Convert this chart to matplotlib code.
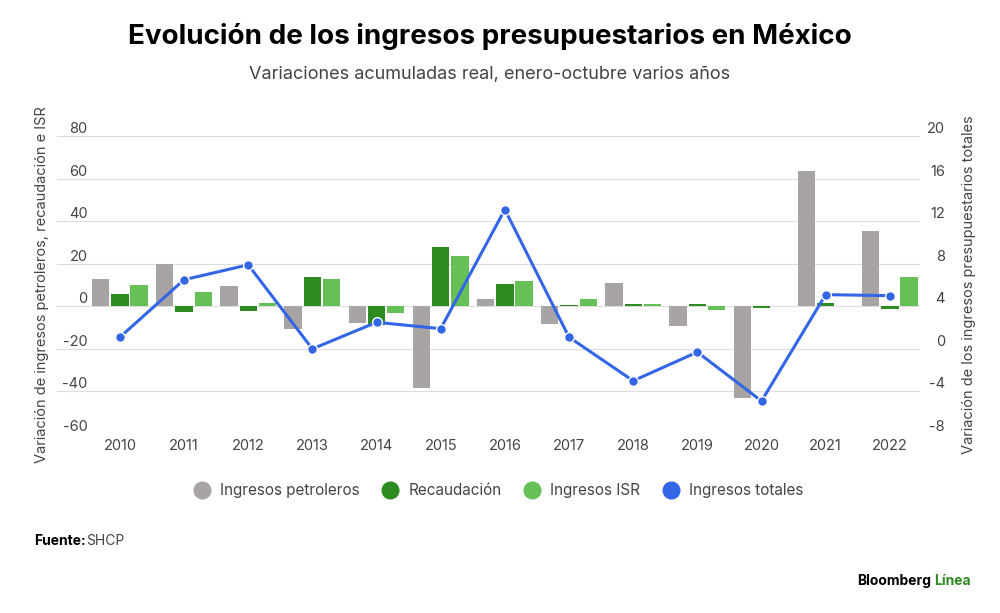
import matplotlib
matplotlib.use("Agg")
import matplotlib.pyplot as plt
import numpy as np
from matplotlib.lines import Line2D

years = ["2010","2011","2012","2013","2014","2015","2016","2017","2018","2019","2020","2021","2022"]
petroleros = [12.8, 20.0, 9.5, -10.6, -7.8, -38.5, 3.6, -8.1, 10.8, -9.2, -43.3, 63.8, 35.5]
recaudacion = [5.6, -2.5, -2.0, 13.8, -9.0, 27.7, 10.3, 0.5, 1.2, 1.2, -1.0, 1.5, -1.2]
isr = [10.0, 6.6, 1.4, 12.8, -3.0, 23.5, 12.0, 3.6, 1.2, -1.5, 0.3, 0.2, 13.9]
totales = [1.1, 6.5, 7.9, 0.0, 2.5, 1.9, 13.1, 1.1, -3.0, -0.3, -4.9, 5.1, 5.0]

plt.rcParams['font.family'] = ['Inter', 'DejaVu Sans']
plt.rcParams['axes.unicode_minus'] = False
GRAY = "#a7a4a3"; DARK = "#2e8b22"; LIGHT = "#66c057"; BLUE = "#3366e6"; TXT = "#444444"

fig = plt.figure(figsize=(10, 6.13), dpi=100)
ax = fig.add_axes([0.057, 0.292, 0.863, 0.486])
x = np.arange(len(years))
w = 0.27
ax.bar(x - 0.3, petroleros, w, color=GRAY, zorder=2)
ax.bar(x, recaudacion, w, color=DARK, zorder=2)
ax.bar(x + 0.3, isr, w, color=LIGHT, zorder=2)
ax.set_ylim(-60, 80)
ax.set_yticks(range(-60, 81, 20))
ax.set_xlim(-0.98, 12.47)
ax.set_xticks(x)
ax.set_xticklabels(years)
ax.grid(axis='y', color="#dddddd", lw=0.8, zorder=0)
for s in ax.spines.values():
    s.set_visible(False)
ax.tick_params(length=0, labelsize=10.5, colors=TXT)
ax.tick_params(axis='y', pad=-22)
for lab in ax.get_yticklabels():
    lab.set_verticalalignment('bottom')
ax.set_ylabel("Variación de ingresos petroleros, recaudación e ISR", fontsize=10.5, color=TXT, labelpad=6)

ax2 = ax.twinx()
ax2.set_ylim(-8, 20)
ax2.set_yticks(range(-8, 21, 4))
ax2.plot(x, totales, color=BLUE, lw=2.2, marker='o', ms=7, mec='white', mew=1, zorder=5)
for s in ax2.spines.values():
    s.set_visible(False)
ax2.tick_params(length=0, labelsize=10.5, colors=TXT)
for lab in ax2.get_yticklabels():
    lab.set_verticalalignment('bottom')
    lab.set_horizontalalignment('right')
ax2.set_ylabel("Variación de los ingresos presupuestarios totales", fontsize=10.5, color=TXT, labelpad=12)
ax2.yaxis.set_tick_params(pad=18)

handles = [Line2D([], [], marker='o', ls='', color=c, ms=12) for c in [GRAY, DARK, LIGHT, BLUE]]
fig.legend(handles, ["Ingresos petroleros", "Recaudación", "Ingresos ISR", "Ingresos totales"],
           loc='center', bbox_to_anchor=(0.495, 0.2), ncol=4, frameon=False, fontsize=11,
           handletextpad=0.2, columnspacing=1.0, labelcolor=TXT)

fig.text(0.49, 0.94, "Evolución de los ingresos presupuestarios en México", ha='center', va='center',
         fontsize=20, fontweight='bold', color='black')
fig.text(0.49, 0.878, "Variaciones acumuladas real, enero-octubre varios años", ha='center', va='center',
         fontsize=13, color=TXT)
fig.text(0.034, 0.118, "Fuente:", fontsize=10, fontweight='bold', va='center')
fig.text(0.086, 0.118, "SHCP", fontsize=10, va='center', color=TXT)
fig.text(0.931, 0.053, "Bloomberg", fontsize=10, fontweight='bold', va='center', ha='right')
fig.text(0.934, 0.053, "Línea", fontsize=10, fontweight='bold', va='center', ha='left', color=DARK)
fig.savefig("out.png", dpi=100, facecolor='white')
